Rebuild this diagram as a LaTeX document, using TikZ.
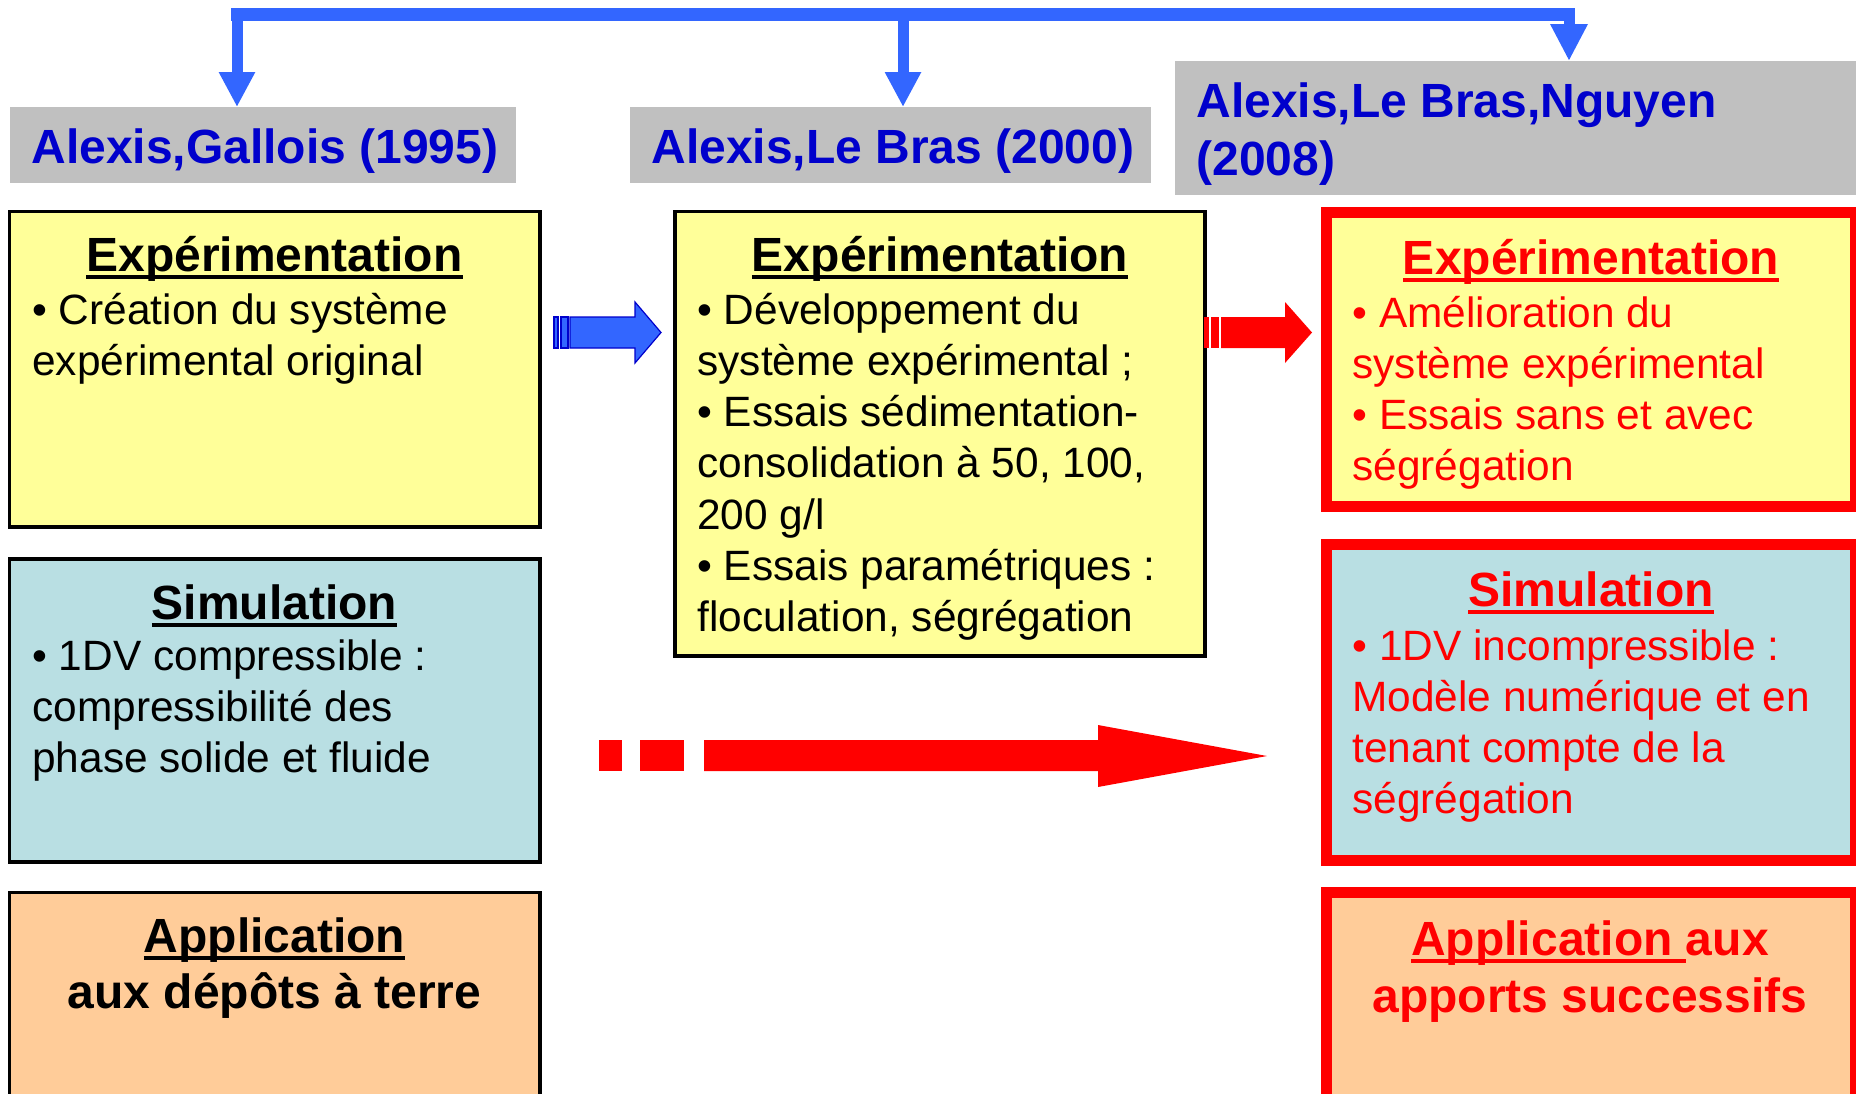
\documentclass[tikz,border=0pt]{standalone}
\usepackage{fontspec}
\setmainfont{Liberation Sans}
\usetikzlibrary{arrows.meta}
\definecolor{lblue}{HTML}{0000CC}
\definecolor{arrblue}{HTML}{3366FF}
\definecolor{labgray}{HTML}{C0C0C0}
\definecolor{boxyellow}{HTML}{FFFF99}
\definecolor{boxcyan}{RGB}{185,223,227}
\definecolor{boxorange}{HTML}{FFCC99}
\definecolor{rred}{HTML}{FF0000}
\newcommand\myul[1]{\setbox0\hbox{#1}\rlap{\vrule height -2.1pt depth 3.9pt width \wd0}\box0}
\newcommand\mlines[2]{\vtop{\baselineskip=#1\relax\lineskiplimit=-20pt\halign{##\hfil\cr#2\crcr}}}
\newcommand\mlinesc[2]{\vtop{\baselineskip=#1\relax\lineskiplimit=-20pt\halign{\hfil##\hfil\cr#2\crcr}}}
\tikzset{
  box/.style={rectangle, draw=black, line width=1.7pt, inner sep=0pt, outer sep=0pt, anchor=north west},
  redbox/.style={rectangle, draw=rred, line width=5.5pt, inner sep=0pt, outer sep=0pt, anchor=north west},
  labbox/.style={rectangle, fill=labgray, inner sep=0pt, outer sep=0pt, anchor=north west},
  hd/.style={inner sep=0pt, anchor=base, font=\fontsize{24pt}{28.8pt}\selectfont\bfseries},
  bd/.style={inner sep=0pt, anchor=base west, font=\fontsize{21.2pt}{25.65pt}\selectfont},
  lab/.style={inner sep=0pt, anchor=base west, text=lblue, font=\fontsize{24pt}{29pt}\selectfont\bfseries},
  bracket/.style={draw=arrblue, line width=5.5pt},
}
\begin{document}
\begin{tikzpicture}[x=0.5pt,y=-0.5pt]
\useasboundingbox (0,0) rectangle (1856,1093);

% ---- label boxes
\node[labbox, minimum width=253pt, minimum height=38pt] (lab1) at (10,107) {};
\node[labbox, minimum width=260.5pt, minimum height=38pt] (lab2) at (630,107) {};
\node[labbox, minimum width=340.5pt, minimum height=67pt] (lab3) at (1175,61) {};
\node[lab] (lab1t) at (31,163) {Alexis,Gallois (1995)};
\node[lab] (lab2t) at (651,163) {Alexis,Le Bras (2000)};
\node[lab] (lab3t) at (1196,117) {\mlines{29pt}{Alexis,Le Bras,Nguyen\cr (2008)}};

% ---- bracket arrows
\coordinate (bL) at (237,14.5);
\coordinate (bM) at (903,14.5);
\coordinate (bR) at (1569,14.5);
\draw[draw=arrblue, line width=6.5pt] ([xshift=-3pt]bL) -- ([xshift=3pt]bR);
\draw[bracket, -{Triangle[length=17.5pt, width=17pt]}] (bL) -- (bL |- lab1.north);
\draw[bracket, -{Triangle[length=17.5pt, width=17pt]}] (bM) -- (bM |- lab2.north);
\draw[bracket, -{Triangle[length=18.5pt, width=17.5pt]}] (bR) -- (bR |- lab3.north);

% ---- column 1
\node[box, fill=boxyellow, minimum width=265.25pt, minimum height=157.75pt] (exp1) at (9.5,211.5) {};
\node[box, fill=boxcyan, minimum width=265.25pt, minimum height=151.5pt] (sim1) at (9.5,559) {};
\node[box, fill=boxorange, minimum width=265.25pt, minimum height=103.75pt] (app1) at (9.5,892.5) {};
\node[hd] (exp1h) at (274.5,271) {\myul{Expérimentation}};
\node[bd] (exp1t) at (32,324) {\mlines{25.65pt}{• Création du système\cr expérimental original}};
\node[hd] (sim1h) at (274.5,619) {\myul{Simulation}};
\node[bd] (sim1t) at (32,670) {\mlines{25.65pt}{• 1DV compressible :\cr compressibilité des\cr phase solide et fluide}};
\node[hd] (app1h) at (274.5,952) {\mlinesc{28pt}{\myul{Application}\cr aux dépôts à terre}};

% ---- column 2
\node[box, fill=boxyellow, minimum width=265pt, minimum height=222.25pt] (exp2) at (675,211.5) {};
\node[hd] (exp2h) at (940,271) {\myul{Expérimentation}};
\node[bd] (exp2t) at (697,324) {\mlines{25.65pt}{• Développement du\cr système expérimental ;\cr • Essais sédimentation-\cr consolidation à 50, 100,\cr 200 g/l\cr • Essais paramétriques :\cr floculation, ségrégation}};

% ---- column 3
\node[redbox, fill=boxyellow, minimum width=264.5pt, minimum height=147.25pt] (exp3) at (1326,212) {};
\node[redbox, fill=boxcyan, minimum width=264.5pt, minimum height=158pt] (sim3) at (1326,544) {};
\node[redbox, fill=boxorange, minimum width=264.5pt, minimum height=105pt] (app3) at (1326,892.5) {};
\node[hd, text=rred] (exp3h) at (1591,274) {\myul{Expérimentation}};
\node[bd, text=rred] (exp3t) at (1352,327) {\mlines{25.65pt}{• Amélioration du\cr système expérimental\cr • Essais sans et avec\cr ségrégation}};
\node[hd, text=rred] (sim3h) at (1591,606) {\myul{Simulation}};
\node[bd, text=rred] (sim3t) at (1352,660) {\mlines{25.65pt}{• 1DV incompressible :\cr Modèle numérique et en\cr tenant compte de la\cr ségrégation}};
\node[hd, text=rred] (app3h) at (1590,955) {\mlinesc{28.5pt}{\myul{Application\ }aux\cr apports successifs}};

% ---- blue block arrow
\fill[arrblue, draw=lblue, line width=0.6pt] (554,317) rectangle (558,348);
\fill[arrblue, draw=lblue, line width=0.6pt] (561,317) rectangle (568,348);
\fill[arrblue, draw=lblue, line width=0.6pt] (570,317) -- (635,317) -- (635,302) -- (661,332.5) -- (635,363) -- (635,348) -- (570,348) -- cycle;

% ---- red block arrow
\fill[rred] (1204,317) rectangle (1209,348);
\fill[rred] (1211,317) rectangle (1219,348);
\fill[rred] (1221,317) -- (1285,317) -- (1285,302) -- (1312,332.5) -- (1285,363) -- (1285,348) -- (1221,348) -- cycle;

% ---- big red arrow
\fill[rred] (599,740) rectangle (622,771);
\fill[rred] (640,740) rectangle (684,771);
\fill[rred] (704,740) -- (1098,740) -- (1098,725) -- (1267,756) -- (1098,787) -- (1098,771) -- (704,771) -- cycle;
\end{tikzpicture}
\end{document}
